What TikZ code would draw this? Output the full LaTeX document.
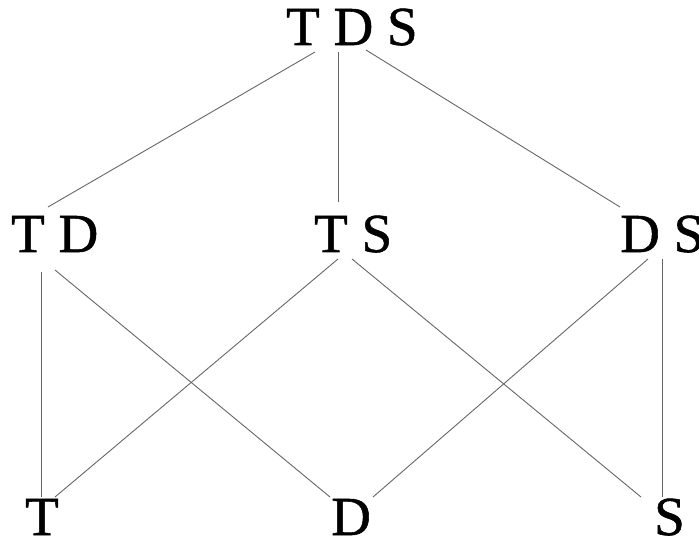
\documentclass[tikz,border=0pt]{standalone}
\usepackage{fontspec}
\setmainfont{Liberation Serif}
\newfontfamily\lblfont[FakeBold=1]{Liberation Serif}
\begin{document}
\begin{tikzpicture}[x=1pt,y=-1pt,
  lbl/.style={anchor=base west,inner sep=0pt,font=\lblfont\fontsize{55}{60}\selectfont},
  edge/.style={draw=black!60,line width=0.9pt}]
\useasboundingbox (0,0) rectangle (699,537);
% labels
\node[lbl] (tds) at (286,45) {T D S};
\node[lbl] (td) at (11,252) {T D};
\node[lbl] (ts) at (314,252) {T S};
\node[lbl] (ds) at (620,252) {D S};
\node[lbl] (t) at (25,535) {T};
\node[lbl] (d) at (331,535) {D};
\node[lbl] (s) at (654,535) {S};
% connector end points
\coordinate (tdsA) at (315,52);
\coordinate (tdsB) at (338,52);
\coordinate (tdsC) at (366,50);
\coordinate (tdTop) at (48,207);
\coordinate (tsTop) at (338,202);
\coordinate (dsTop) at (620,207);
\coordinate (tdA) at (41,272);
\coordinate (tdB) at (55,270);
\coordinate (tsA) at (338,259);
\coordinate (tsB) at (352,259);
\coordinate (dsA) at (648,259);
\coordinate (dsB) at (662,259);
\coordinate (tA) at (41,497);
\coordinate (tB) at (55,497);
\coordinate (dA) at (330,497);
\coordinate (dB) at (373,497);
\coordinate (sA) at (641,497);
\coordinate (sB) at (662,497);
% connectors
\draw[edge] (tdsA) -- (tdTop);
\draw[edge] (tdsB) -- (tsTop);
\draw[edge] (tdsC) -- (dsTop);
\draw[edge] (tdA) -- (tA);
\draw[edge] (tdB) -- (dA);
\draw[edge] (tsA) -- (tB);
\draw[edge] (tsB) -- (sA);
\draw[edge] (dsA) -- (dB);
\draw[edge] (dsB) -- (sB);
\end{tikzpicture}
\end{document}
